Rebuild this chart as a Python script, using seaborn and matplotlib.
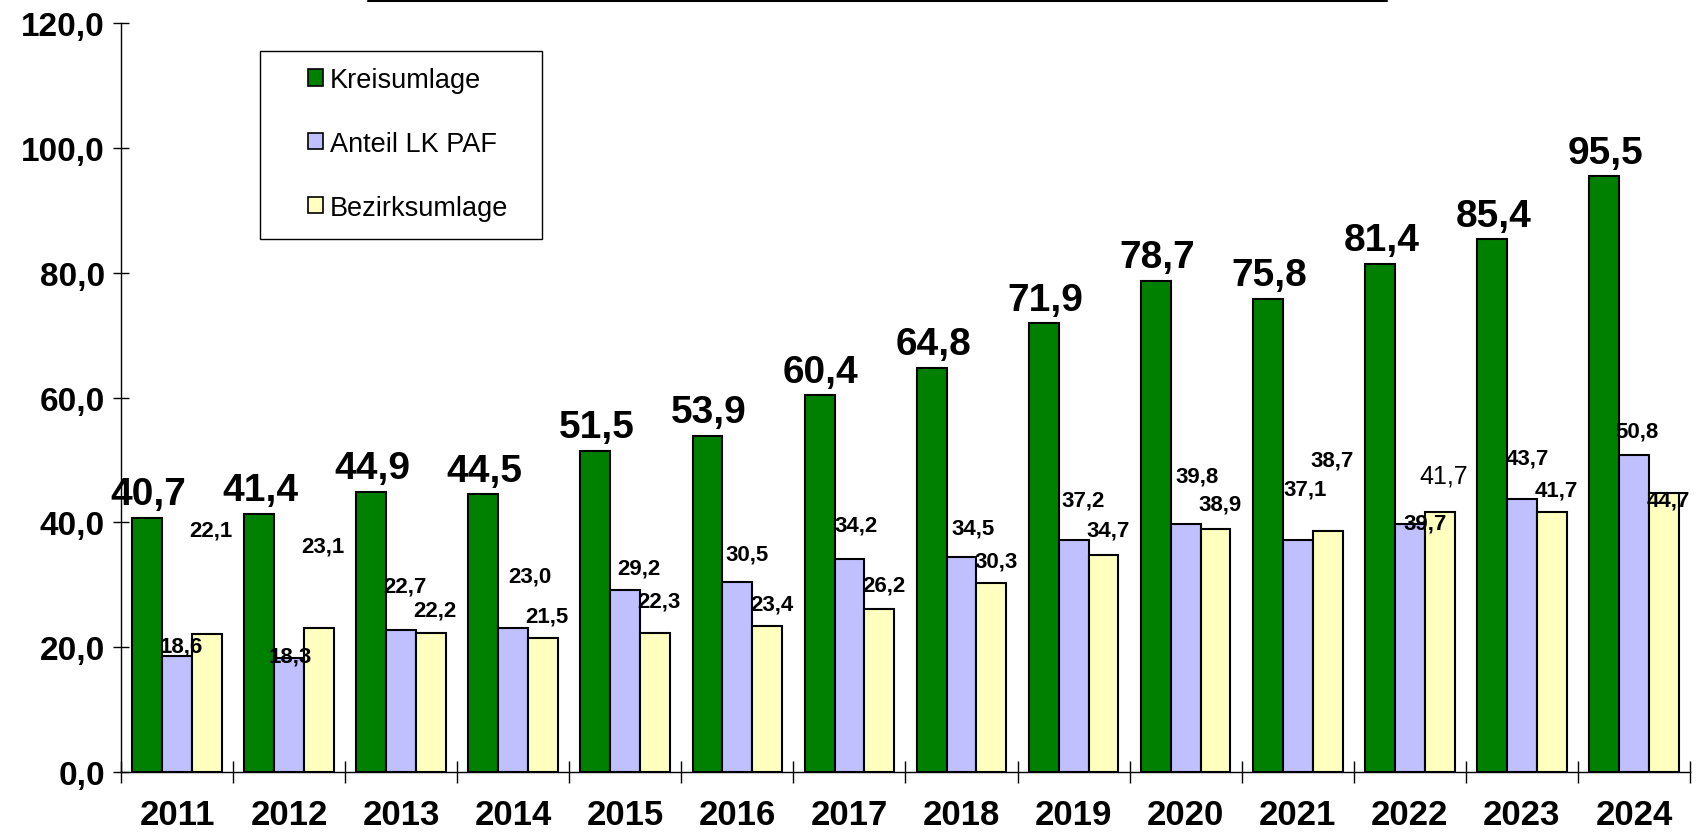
import numpy as np
import pandas as pd
import matplotlib
matplotlib.use("Agg")
import matplotlib.pyplot as plt
import seaborn as sns
from matplotlib.ticker import FixedLocator, FuncFormatter
from matplotlib.patches import Rectangle
from matplotlib.lines import Line2D

years = [str(y) for y in range(2011, 2025)]
kreisumlage = [40.7, 41.4, 44.9, 44.5, 51.5, 53.9, 60.4, 64.8, 71.9, 78.7, 75.8, 81.4, 85.4, 95.5]
anteil_lk_paf = [18.6, 18.3, 22.7, 23.0, 29.2, 30.5, 34.2, 34.5, 37.2, 39.8, 37.1, 39.7, 43.7, 50.8]
bezirksumlage = [22.1, 23.1, 22.2, 21.5, 22.3, 23.4, 26.2, 30.3, 34.7, 38.9, 38.7, 41.7, 41.7, 44.7]
series_names = ["Kreisumlage", "Anteil LK PAF", "Bezirksumlage"]

# label offsets in points, the original labels were placed by hand
paf_dy = [7, 1, 32, 38, 16, 20, 24, 21, 29, 34, 37, 1, 30, 17]
paf_dx = [3, 1, 3, 12, 10, 7, 5, 8, 7, 8, 5, 11, 4, 2]
bez_dy = [75, 59, 17, 16, 23, 16, 17, 16, 18, 18, 51, 26, 16, -5]

df = pd.DataFrame({
    "Jahr": years * 3,
    "Wert": kreisumlage + anteil_lk_paf + bezirksumlage,
    "Reihe": np.repeat(series_names, len(years)),
})

sns.set_style("white")
plt.rcParams["font.family"] = ["Liberation Sans", "DejaVu Sans"]
plt.rcParams["font.weight"] = "bold"
plt.rcParams["text.color"] = "black"
plt.rcParams["xtick.color"] = "black"
plt.rcParams["ytick.color"] = "black"
plt.rcParams["xtick.labelcolor"] = "black"
plt.rcParams["ytick.labelcolor"] = "black"

fig, ax = plt.subplots(figsize=(16.99, 8.37), dpi=100)
fig.subplots_adjust(left=0.0712, right=0.9947, bottom=0.0765, top=0.971)

sns.barplot(data=df, x="Jahr", y="Wert", hue="Reihe",
            palette=["#008000", "#C0C0FF", "#FFFFC0"], saturation=1,
            edgecolor="black", linewidth=1.5, errorbar=None, ax=ax)


def fmt(v):
    return f"{v:.1f}".replace(".", ",")


for bar, v in zip(ax.containers[0], kreisumlage):
    ax.annotate(fmt(v), (bar.get_x() + bar.get_width() / 2, bar.get_height()),
                xytext=(1, 17), textcoords="offset points",
                ha="center", va="center", fontsize=28, color="black")

for bar, v, dx, dy in zip(ax.containers[1], anteil_lk_paf, paf_dx, paf_dy):
    ax.annotate(fmt(v), (bar.get_x() + bar.get_width() / 2, bar.get_height()),
                xytext=(dx, dy), textcoords="offset points",
                ha="center", va="center", fontsize=16, color="black")

for i, (bar, v, dy) in enumerate(zip(ax.containers[2], bezirksumlage, bez_dy)):
    ax.annotate(fmt(v), (bar.get_x() + bar.get_width() / 2, bar.get_height()),
                xytext=(3, dy), textcoords="offset points",
                ha="center", va="center", color="black",
                fontsize=18 if i == 11 else 16,
                fontweight="normal" if i == 11 else "bold")

ax.set_xlim(-0.5, len(years) - 0.5)
ax.set_ylim(0, 120)
ax.set_yticks(range(0, 121, 20))
ax.yaxis.set_major_formatter(FuncFormatter(lambda v, p: fmt(v)))
ax.xaxis.set_minor_locator(FixedLocator(np.arange(-0.5, len(years), 1.0)))
ax.set_xlabel("")
ax.set_ylabel("")

ax.tick_params(axis="y", direction="inout", length=11, width=1, color="black",
               labelsize=24, pad=6, left=True)
ax.tick_params(axis="x", which="major", length=0, labelsize=25, pad=19)
ax.tick_params(axis="x", which="minor", direction="inout", length=16, width=1,
               color="black", bottom=True)

for side in ["top", "right"]:
    ax.spines[side].set_visible(False)
for side in ["left", "bottom"]:
    ax.spines[side].set_color("black")
    ax.spines[side].set_linewidth(1)

handles, labels = ax.get_legend_handles_labels()
for h in handles:
    h.set_edgecolor("black")
    h.set_linewidth(1.2)
ax.legend(handles, labels, loc="upper left",
          bbox_to_anchor=(308 / 1699, 1 - 68 / 837), bbox_transform=fig.transFigure,
          frameon=False, prop={"size": 19.5, "weight": "normal"},
          handlelength=0.55, handleheight=0.55, handletextpad=0.25,
          labelspacing=1.4, borderpad=0, borderaxespad=0)

fig.add_artist(Rectangle((260 / 1699, 1 - 240 / 837), (542 - 260) / 1699, (240 - 52) / 837,
                         transform=fig.transFigure, fill=False, edgecolor="black", lw=1))
fig.add_artist(Line2D([368 / 1699, 1387 / 1699], [1 - 1.5 / 837] * 2,
                      transform=fig.transFigure, color="black", lw=1.5))

fig.savefig("out.png", dpi=100)
